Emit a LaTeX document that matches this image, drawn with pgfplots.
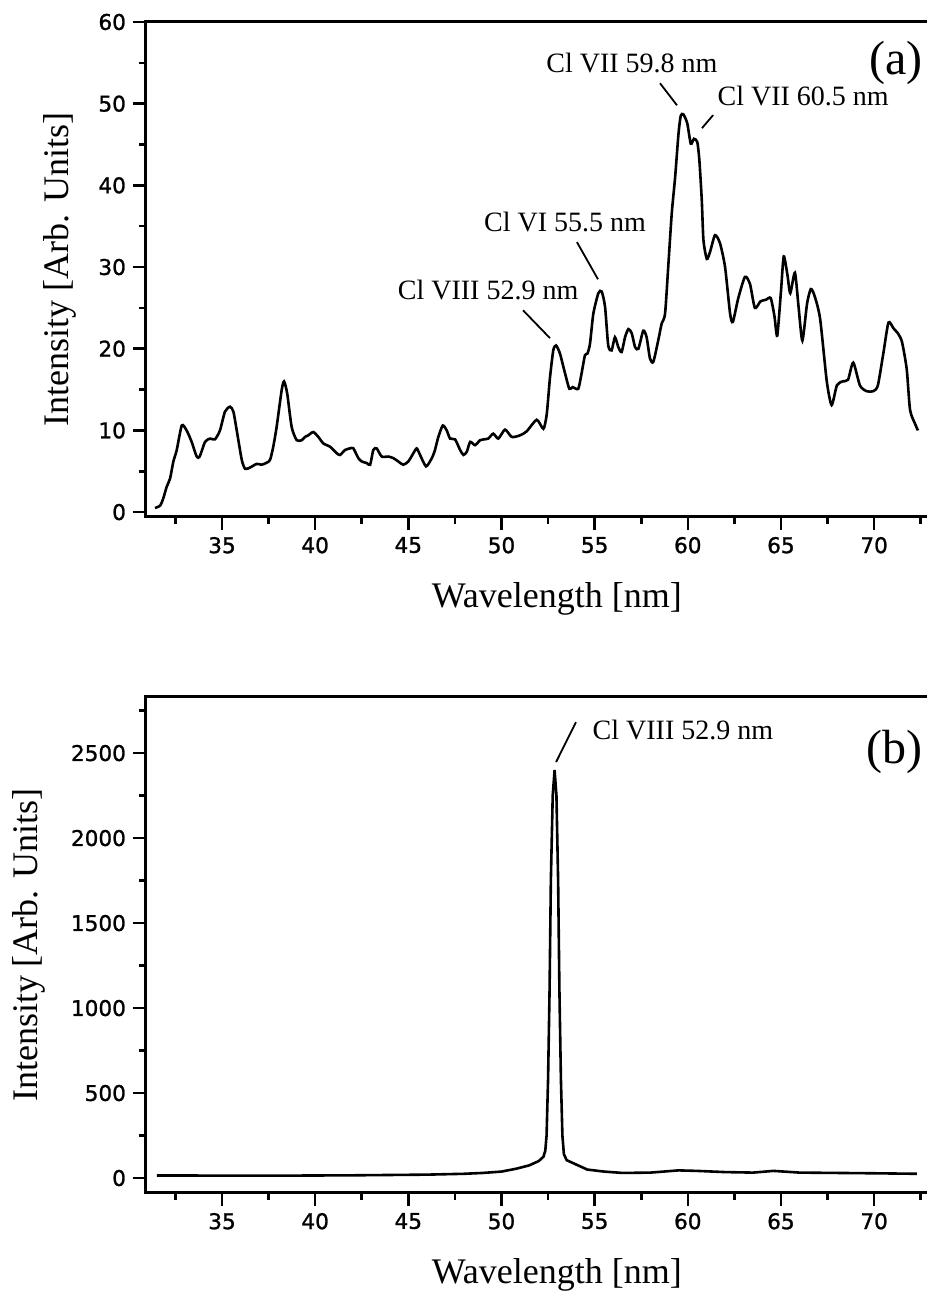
\documentclass[border=0pt]{standalone}
\usepackage{fontspec}
\setmainfont{Liberation Serif}
\newfontfamily\tickfont[FakeBold=1.2]{DejaVu Sans}
\usepackage{pgfplots}
\pgfplotsset{compat=1.18}
\pgfplotsset{
  myax/.style={
    scale only axis, width=392pt,
    xmin=30.92, xmax=73.0,
    xtick={35,40,...,70}, minor xtick={32.5,37.5,...,72.5},
    xtick pos=left, ytick pos=left,
    tick align=outside,
    major tick length=6.5pt, minor tick length=3.5pt,
    tick style={line width=1.3pt, black},
    axis line style={line width=1.5pt},
    tick label style={font=\tickfont\fontsize{10.8}{12}\selectfont},
    /pgf/number format/assume math mode=true,
    /pgf/number format/1000 sep={},
    scaled y ticks=false,
    label style={font=\fontsize{18}{21}\selectfont},
    xlabel={Wavelength [nm]},
    ylabel={Intensity [Arb. Units]},
    xlabel style={at={(axis description cs:0.524,-0.165)}, anchor=center},
  },
}
\tikzset{
  ann/.style={font=\fontsize{14}{16}\selectfont, inner sep=0pt},
  lead/.style={line width=0.9pt},
}
\begin{document}
\begin{tikzpicture}
\path[use as bounding box] (0,0) rectangle (463.5pt,646pt);
% ---------- panel (a) ----------
\begin{axis}[myax, at={(73pt,387.5pt)}, anchor=south west, height=247.5pt,
  ylabel style={at={(axis description cs:-0.11,0.5)}, anchor=center},
  ymin=-0.6, ymax=60, ytick={0,10,...,60}, minor ytick={5,15,...,55}]
\addplot[black, line width=1.3pt, smooth, tension=0.4] coordinates {
(31.40,0.5) (31.68,0.8) (31.85,1.7) (32.03,3.1) (32.21,4.1) (32.39,6.2) (32.57,7.6)
(32.84,10.6) (33.10,10.0) (33.37,8.6) (33.64,6.8) (33.80,6.8) (34.09,8.6) (34.36,9.0)
(34.62,8.9) (34.89,10.0) (35.16,12.3) (35.43,12.9) (35.61,12.3) (35.79,10.0) (36.06,6.4)
(36.24,5.3) (36.50,5.45) (36.86,5.9) (37.13,5.8) (37.40,6.05) (37.58,6.4) (37.75,8.0)
(37.93,10.4) (38.20,14.9) (38.33,16.0) (38.50,14.5) (38.74,10.4) (39.01,8.8) (39.28,8.8)
(39.45,9.2) (39.63,9.4) (39.90,9.8) (40.17,9.2) (40.44,8.4) (40.80,8.0) (41.16,7.2)
(41.34,7.0) (41.60,7.6) (41.87,7.8) (42.05,7.8) (42.32,6.6) (42.50,6.2) (42.77,6.0)
(42.95,5.8) (43.12,7.6) (43.30,7.8) (43.57,6.8) (43.93,6.8) (44.20,6.6) (44.46,6.2)
(44.73,5.8) (45.00,6.2) (45.27,7.2) (45.45,7.8) (45.63,7.0) (45.95,5.6) (46.26,6.6)
(46.43,7.6) (46.61,9.2) (46.85,10.6) (47.06,10.0) (47.24,9.0) (47.51,8.9) (47.78,7.6)
(47.96,7.0) (48.14,7.4) (48.32,8.6) (48.58,8.2) (48.85,8.8) (49.03,8.9) (49.29,9.0)
(49.56,9.6) (49.83,9.0) (50.19,10.1) (50.55,9.2) (51.00,9.4) (51.36,9.9) (51.89,11.3)
(52.25,10.2) (52.43,12.0) (52.60,16.4) (52.78,19.8) (52.93,20.4) (53.14,19.4) (53.41,17.0)
(53.64,15.1) (53.82,15.3) (54.12,15.1) (54.30,17.0) (54.48,19.2) (54.61,19.4) (54.75,20.6)
(54.93,24.3) (55.20,26.8) (55.38,27.0) (55.56,25.1) (55.73,20.4) (55.91,19.8) (56.09,21.4)
(56.27,20.2) (56.45,19.6) (56.63,21.4) (56.81,22.4) (56.99,21.9) (57.17,20.2) (57.35,20.0)
(57.61,22.2) (57.79,21.4) (57.97,18.8) (58.15,18.4) (58.42,21.1) (58.60,23.1) (58.78,24.3)
(58.96,30.4) (59.14,36.6) (59.32,41.0) (59.50,46.3) (59.62,48.5) (59.76,48.7) (59.97,47.6)
(60.16,45.1) (60.33,45.7) (60.51,45.3) (60.62,43.1) (60.75,38.2) (60.84,33.3) (61.02,31.0)
(61.20,31.9) (61.46,33.9) (61.73,32.9) (62.00,30.0) (62.27,24.3) (62.42,23.3) (62.71,26.2)
(63.07,28.8) (63.34,27.9) (63.60,25.0) (63.90,25.8) (64.20,26.0) (64.45,26.2) (64.65,24.0)
(64.80,21.6) (65.00,27.0) (65.15,31.3) (65.35,29.0) (65.50,26.8) (65.75,29.3) (65.95,25.0)
(66.15,21.0) (66.40,25.5) (66.60,27.3) (66.80,26.5) (67.10,23.7) (67.46,16.0) (67.72,13.1)
(68.00,15.5) (68.30,16.0) (68.60,16.2) (68.88,18.3) (69.24,15.5) (69.60,14.8) (69.95,14.8)
(70.20,15.5) (70.50,19.5) (70.77,23.2) (71.04,22.5) (71.30,21.8) (71.50,20.8) (71.75,17.5)
(71.93,12.5) (72.20,10.8) (72.35,10.0)
};
\node[ann] at (axis cs:57.0,55.0) {Cl VII 59.8 nm};
\draw[lead] (axis cs:58.51,52.5) -- (axis cs:59.42,49.8);
\node[ann] at (axis cs:66.19,51.0) {Cl VII 60.5 nm};
\draw[lead] (axis cs:61.36,48.6) -- (axis cs:60.76,47.0);
\node[ann] at (axis cs:53.41,35.5) {Cl VI 55.5 nm};
\draw[lead] (axis cs:54.05,33.05) -- (axis cs:55.18,28.5);
\node[ann] at (axis cs:49.28,27.2) {Cl VIII 52.9 nm};
\draw[lead] (axis cs:51.16,24.7) -- (axis cs:52.6,21.3);
\node[font=\fontsize{24}{26}\selectfont, inner sep=0pt] at (axis cs:71.18,55.0) {(a)};
\end{axis}
% ---------- panel (b) ----------
\begin{axis}[myax, at={(73pt,49.5pt)}, anchor=south west, height=248pt,
  ylabel style={at={(axis description cs:-0.149,0.5)}, anchor=center},
  ymin=-88, ymax=2830, ytick={0,500,...,2500}, minor ytick={250,750,...,2750}]
\addplot[black, line width=1.3pt] coordinates {
(31.5,15) (33,15) (35,14) (38,14) (40,15) (42,16) (44,18) (46,20) (48,25) (49,30)
(50,38) (50.8,55) (51.5,75) (52.0,100) (52.25,125) (52.35,160) (52.42,250) (52.50,580)
(52.58,1100) (52.65,1750) (52.75,2250) (52.85,2400) (52.95,2250) (53.04,1750) (53.11,1100)
(53.19,580) (53.27,250) (53.35,140) (53.5,105) (54.0,80) (54.6,50) (55.5,38) (56.5,30)
(58,32) (59.5,45) (60.5,42) (62,35) (63.5,32) (64.6,42) (66,32) (68,30) (70,28) (72.3,25)
};
\node[ann] at (axis cs:59.74,2635) {Cl VIII 52.9 nm};
\draw[lead] (axis cs:54.0,2682) -- (axis cs:52.93,2447);
\node[font=\fontsize{24}{26}\selectfont, inner sep=0pt] at (axis cs:71.12,2506) {(b)};
\end{axis}
\end{tikzpicture}
\end{document}
